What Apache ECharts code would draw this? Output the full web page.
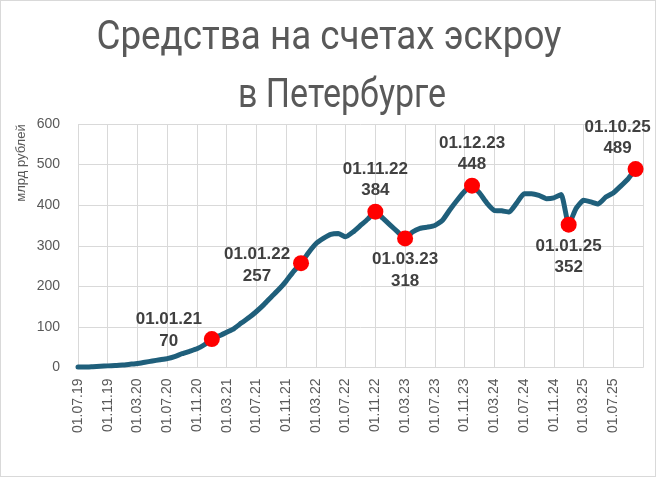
<!DOCTYPE html>
<html>
<head>
<meta charset="utf-8">
<script src="https://cdn.jsdelivr.net/npm/echarts@6/dist/echarts.min.js"></script>
<style>
html,body{margin:0;padding:0;background:#fff;}
#chart{width:656px;height:477px;box-sizing:border-box;border:1px solid #d9d9d9;}
</style>
</head>
<body>
<div id="chart"></div>
<script>
// Month categories (01.07.19 ... 01.11.25)
const categories = [
 '01.07.19','01.08.19','01.09.19','01.10.19','01.11.19','01.12.19',
 '01.01.20','01.02.20','01.03.20','01.04.20','01.05.20','01.06.20','01.07.20','01.08.20','01.09.20','01.10.20','01.11.20','01.12.20',
 '01.01.21','01.02.21','01.03.21','01.04.21','01.05.21','01.06.21','01.07.21','01.08.21','01.09.21','01.10.21','01.11.21','01.12.21',
 '01.01.22','01.02.22','01.03.22','01.04.22','01.05.22','01.06.22','01.07.22','01.08.22','01.09.22','01.10.22','01.11.22','01.12.22',
 '01.01.23','01.02.23','01.03.23','01.04.23','01.05.23','01.06.23','01.07.23','01.08.23','01.09.23','01.10.23','01.11.23','01.12.23',
 '01.01.24','01.02.24','01.03.24','01.04.24','01.05.24','01.06.24','01.07.24','01.08.24','01.09.24','01.10.24','01.11.24','01.12.24',
 '01.01.25','01.02.25','01.03.25','01.04.25','01.05.25','01.06.25','01.07.25','01.08.25','01.09.25','01.10.25','01.11.25'
];
// Escrow funds, bn rubles
const escrow = [
 1,1,2,3,4,5,
 6,8,10,13,16,19,22,27,34,40,46,56,
 70,78,87,96,110,123,138,155,174,192,213,237,
 257,283,305,318,328,330,322,334,350,366,384,368,
 351,334,318,334,343,346,350,362,388,412,434,448,
 430,405,387,386,383,405,428,428,424,416,418,426,
 352,392,412,408,403,420,430,447,465,489
];
// Highlighted points
const highlightDates = ['01.01.21','01.01.22','01.11.22','01.03.23','01.12.23','01.01.25','01.10.25'];
const labelOffsets = [[-43,-9],[-44,2],[0,-32],[0,32],[0,-32],[0,32],[-18,-31]];
const yTicks = [0,100,200,300,400,500,600];
const titleLines = ['Средства на счетах эскроу','в Петербурге'];

const highlightData = highlightDates.map((d,i)=>{
  const idx = categories.indexOf(d);
  return {
    value:[idx, escrow[idx]],
    label:{offset: labelOffsets[i], formatter: d + '\n' + escrow[idx]}
  };
});

const titleStyle = {fontFamily:'Roboto', fontWeight:'normal', fontSize:40, fill:'#595959',
  textAlign:'center', textVerticalAlign:'middle'};

const chart = echarts.init(document.getElementById('chart'));
chart.setOption({
  animation:false,
  backgroundColor:'#fff',
  graphic:[
    {type:'text', x:328, y:38, scaleX:0.92, style:Object.assign({text:titleLines[0]}, titleStyle)},
    {type:'text', x:341, y:96, scaleX:0.85, style:Object.assign({text:titleLines[1]}, titleStyle)},
    {type:'text', x:20, y:162, rotation:Math.PI/2,
     style:{text:'млрд рублей', fontFamily:'Liberation Sans', fontSize:13, fill:'#595959',
      textAlign:'center', textVerticalAlign:'middle'}}
  ],
  grid:{left:77, right:12, top:123, bottom:108.5},
  xAxis:{
    type:'category', data:categories, boundaryGap:false,
    axisLine:{lineStyle:{color:'#d9d9d9', width:1}},
    axisTick:{show:false},
    axisLabel:{interval:(i)=> i%4===0 && i<76, rotate:90, margin:11,
      fontFamily:'Liberation Sans', fontSize:14, color:'#595959'},
    splitLine:{show:true, interval:3, lineStyle:{color:'#d9d9d9', width:1}}
  },
  yAxis:{
    type:'value', min:yTicks[0], max:yTicks[yTicks.length-1], interval:100,
    axisLine:{show:false}, axisTick:{show:false},
    axisLabel:{margin:18, fontFamily:'Liberation Sans', fontSize:14, color:'#595959'},
    splitLine:{lineStyle:{color:'#d9d9d9', width:1}}
  },
  series:[
    {type:'line', data:escrow, symbol:'none', smooth:0.15,
     lineStyle:{color:'#1f5f7b', width:5, cap:'round', join:'round'}, z:2},
    {type:'scatter', data:highlightData, symbolSize:16,
     itemStyle:{color:'#ff0000', opacity:1}, z:3,
     label:{show:true, position:'inside', align:'center', verticalAlign:'middle',
       fontFamily:'Liberation Sans', fontWeight:'bold', fontSize:17, lineHeight:21.5, color:'#404040'}}
  ]
});
</script>
</body>
</html>
